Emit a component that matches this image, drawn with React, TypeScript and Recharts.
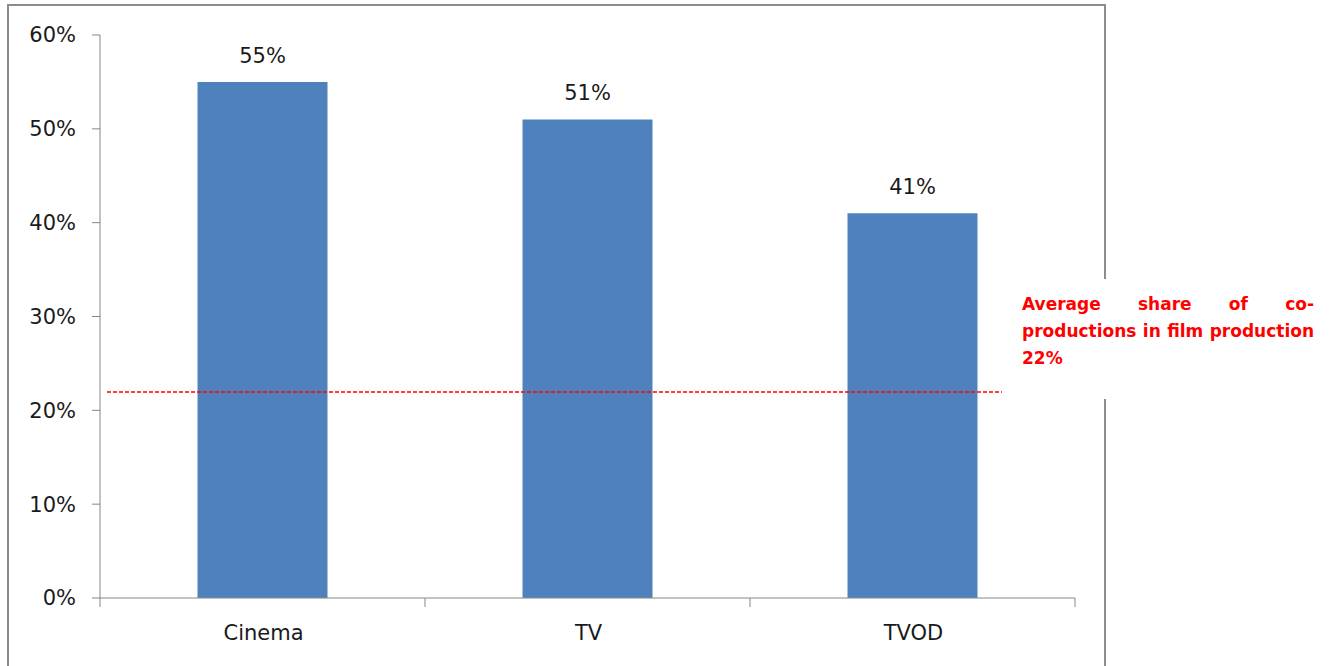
import { BarChart, Bar, XAxis, YAxis, ReferenceLine, LabelList } from "recharts";

const categories = ["Cinema", "TV", "TVOD"];
const shares = [55, 51, 41];
const yTicks = [0, 10, 20, 30, 40, 50, 60];
const averageShare = 22;
const noteLines = ["Average share of co-", "productions in film production", "22%"];

const data = categories.map((name, i) => ({ name, share: shares[i] }));

const W = 1331;
const H = 666;
const PLOT_LEFT = 100;
const PLOT_RIGHT = 1075;
const AXIS_GREY = "#868686";
const FONT = "'DejaVu Sans', Verdana, sans-serif";

const halfBand = (PLOT_RIGHT - PLOT_LEFT) / categories.length / 2;

function CategoryTick(props: any) {
  const { x, y, payload, index } = props;
  const last = index === categories.length - 1;
  return (
    <g>
      <line x1={x - halfBand} y1={y} x2={x - halfBand} y2={y + 9} stroke={AXIS_GREY} />
      {last && <line x1={x + halfBand} y1={y} x2={x + halfBand} y2={y + 9} stroke={AXIS_GREY} />}
      <text x={x + 1} y={y + 42} textAnchor="middle" fontSize={21} fill="#1a1a1a" fontFamily={FONT}>
        {payload.value}
      </text>
    </g>
  );
}

// dashed average line, stopping short of both plot edges
function DashedAverage(props: any) {
  const { x1, x2, y1 } = props;
  const y = Math.round(y1);
  return (
    <line x1={x1 + 7} x2={x2 - 73} y1={y} y2={y} stroke="#ff0000" strokeWidth={1.5} strokeDasharray="4 2" />
  );
}

export default function App() {
  return (
    <div style={{ position: "absolute", left: 0, top: 0, width: W, height: H, overflow: "hidden", background: "#fff" }}>
      {/* chart frame, open at the bottom */}
      <div
        style={{
          position: "absolute",
          left: 7,
          top: 4,
          width: 1095,
          height: 700,
          border: "2px solid #8c8c8c",
        }}
      />
      <BarChart
        width={W}
        height={H}
        data={data}
        margin={{ top: 35, right: W - PLOT_RIGHT, bottom: 18, left: 10 }}
        barCategoryGap="30%"
        style={{ position: "absolute", left: 0, top: 0 }}
      >
        <XAxis
          dataKey="name"
          height={50}
          stroke={AXIS_GREY}
          tickLine={false}
          tickSize={0}
          tickMargin={0}
          tick={<CategoryTick />}
        />
        <YAxis
          width={90}
          domain={[0, 60]}
          ticks={yTicks}
          tickFormatter={(v: number) => `${v}%`}
          stroke={AXIS_GREY}
          tickSize={8}
          tickMargin={16}
          tick={{ fontSize: 21, fill: "#1a1a1a", fontFamily: FONT }}
        />
        <Bar dataKey="share" fill="#4f81bd" isAnimationActive={false}>
          <LabelList
            dataKey="share"
            position="top"
            offset={19}
            formatter={(v: any) => `${v}%`}
            style={{ fontSize: 21, fill: "#1a1a1a", fontFamily: FONT }}
          />
        </Bar>
        <ReferenceLine y={averageShare} shape={<DashedAverage />} />
      </BarChart>
      <div
        style={{
          position: "absolute",
          left: 1012,
          top: 279,
          width: 312,
          height: 120,
          background: "#fff",
          boxSizing: "border-box",
          padding: "12px 10px 0 10px",
          color: "#ff0000",
          fontFamily: FONT,
          fontWeight: "bold",
          fontSize: 17,
          lineHeight: "27px",
        }}
      >
        {noteLines.map((line, i) => (
          <div key={i} style={{ textAlign: "justify", textAlignLast: i < noteLines.length - 1 ? "justify" : "left", whiteSpace: "nowrap" }}>
            {line}
          </div>
        ))}
      </div>
    </div>
  );
}
